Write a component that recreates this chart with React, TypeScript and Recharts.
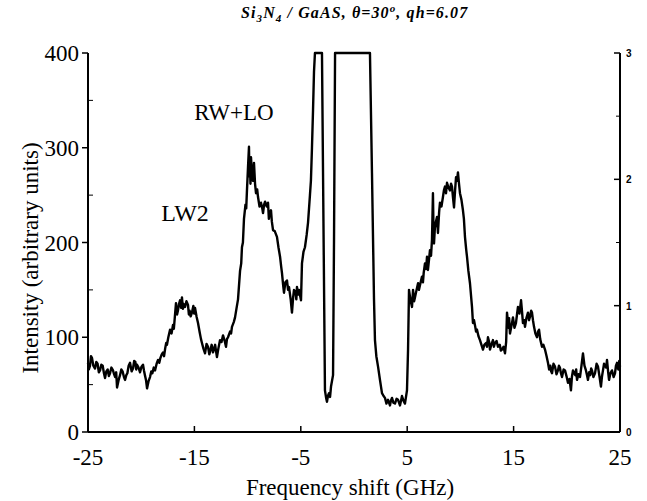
import React from "react";
import { LineChart, Line, XAxis, YAxis, ReferenceDot } from "recharts";

// [frequency shift (GHz), intensity (arbitrary units)]
const leftWing: [number, number][] = [
  [-25.0, 73], [-24.92, 66], [-24.81, 70], [-24.72, 80], [-24.62, 78], [-24.5, 70], [-24.34, 67], [-24.22, 74],
  [-24.1, 72], [-23.98, 63], [-23.87, 65], [-23.75, 71], [-23.62, 70], [-23.5, 62], [-23.4, 57], [-23.28, 64],
  [-23.15, 66], [-23.04, 59], [-22.93, 62], [-22.8, 68], [-22.65, 65], [-22.55, 61], [-22.45, 58], [-22.35, 63],
  [-22.27, 47], [-22.12, 55], [-21.99, 60], [-21.87, 66], [-21.75, 64], [-21.62, 58], [-21.52, 55], [-21.4, 60],
  [-21.3, 62], [-21.18, 70], [-21.05, 73], [-20.9, 64], [-20.77, 67], [-20.66, 75], [-20.55, 74], [-20.47, 66],
  [-20.39, 71], [-20.25, 68], [-20.11, 63], [-19.97, 69], [-19.83, 71], [-19.74, 65], [-19.65, 60], [-19.55, 55],
  [-19.45, 46], [-19.3, 54], [-19.17, 58], [-19.05, 64], [-18.95, 62], [-18.82, 68], [-18.7, 65], [-18.55, 72],
  [-18.42, 76], [-18.3, 73], [-18.2, 78], [-18.07, 82], [-17.95, 84], [-17.85, 80], [-17.75, 88], [-17.65, 94],
  [-17.58, 92], [-17.45, 100], [-17.29, 108], [-17.15, 104], [-17.01, 113], [-16.93, 109], [-16.85, 120], [-16.73, 136],
  [-16.63, 124], [-16.55, 128], [-16.45, 135], [-16.35, 139], [-16.25, 131], [-16.17, 142], [-16.08, 130], [-16.0, 135],
  [-15.88, 132], [-15.75, 138], [-15.6, 134], [-15.52, 124], [-15.45, 128], [-15.35, 122], [-15.23, 126], [-15.1, 133],
  [-15.02, 125], [-14.94, 131], [-14.8, 122], [-14.66, 115], [-14.5, 105], [-14.38, 98], [-14.29, 94], [-14.15, 88],
  [-14.0, 83], [-13.86, 93], [-13.72, 90], [-13.6, 82], [-13.5, 86], [-13.38, 92], [-13.25, 84], [-13.15, 88],
  [-13.05, 92], [-12.96, 85], [-12.88, 79], [-12.75, 88], [-12.59, 97], [-12.45, 95], [-12.31, 102], [-12.15, 96],
  [-12.03, 90], [-11.94, 98], [-11.84, 100], [-11.65, 106], [-11.55, 104], [-11.47, 111], [-11.3, 116], [-11.18, 121],
  [-11.05, 130], [-10.9, 140], [-10.71, 170], [-10.6, 178], [-10.53, 195], [-10.44, 200], [-10.34, 225], [-10.2, 240],
  [-10.13, 236], [-10.06, 255], [-9.96, 280], [-9.87, 301], [-9.83, 270], [-9.78, 280], [-9.73, 262], [-9.68, 290],
  [-9.59, 273], [-9.5, 265], [-9.4, 284], [-9.3, 262], [-9.21, 252], [-9.1, 256], [-9.02, 248], [-8.88, 238],
  [-8.74, 242], [-8.62, 236], [-8.55, 231], [-8.45, 240], [-8.36, 243], [-8.2, 238], [-8.08, 242], [-8.0, 225],
  [-7.95, 230], [-7.8, 234], [-7.72, 222], [-7.61, 213], [-7.45, 212], [-7.24, 206], [-7.1, 195], [-6.95, 185],
  [-6.85, 175], [-6.77, 168], [-6.66, 155], [-6.58, 147], [-6.45, 158], [-6.3, 160], [-6.2, 150], [-6.11, 153],
  [-5.95, 140], [-5.83, 126], [-5.72, 142], [-5.64, 150], [-5.5, 148], [-5.42, 140], [-5.36, 153], [-5.25, 145],
  [-5.17, 150], [-4.98, 139],
];

const centre: [number, number][] = [
  [-4.89, 178], [-4.75, 190], [-4.61, 195], [-4.45, 208], [-4.32, 221], [-4.14, 250], [-4.05, 265], [-3.95, 300],
  [-3.85, 340], [-3.76, 380], [-3.67, 400], [-3.01, 400], [-2.73, 44], [-2.62, 36], [-2.54, 32], [-2.45, 38],
  [-2.35, 41], [-2.25, 37], [-2.16, 48], [-1.97, 60], [-1.88, 200], [-1.78, 400], [1.5, 400], [1.69, 273],
  [1.88, 140], [1.97, 97], [2.1, 80], [2.26, 69], [2.44, 55], [2.63, 41], [2.78, 38], [2.91, 36],
  [3.05, 30], [3.2, 34], [3.38, 28], [3.47, 33], [3.57, 36], [3.7, 31], [3.85, 30], [4.0, 35],
  [4.14, 34], [4.32, 28], [4.42, 33], [4.51, 38], [4.65, 33], [4.79, 30], [4.98, 44], [5.08, 87],
];

const rightWing: [number, number][] = [
  [5.17, 150], [5.3, 140], [5.45, 132], [5.55, 150], [5.65, 138], [5.73, 142], [5.88, 150], [6.02, 157],
  [6.1, 150], [6.2, 155], [6.39, 164], [6.48, 158], [6.55, 168], [6.67, 178], [6.78, 172], [6.86, 185],
  [6.95, 171], [7.05, 182], [7.14, 192], [7.24, 186], [7.33, 203], [7.42, 252], [7.47, 215], [7.52, 199],
  [7.6, 215], [7.66, 220], [7.8, 227], [7.89, 210], [8.0, 232], [8.08, 242], [8.22, 238], [8.36, 248],
  [8.45, 255], [8.55, 259], [8.65, 252], [8.74, 263], [8.88, 258], [9.02, 255], [9.12, 262], [9.21, 259],
  [9.3, 248], [9.4, 237], [9.5, 255], [9.59, 269], [9.68, 265], [9.77, 274], [9.87, 262], [9.96, 252],
  [10.1, 245], [10.24, 234], [10.33, 225], [10.43, 206], [10.55, 192], [10.62, 185], [10.75, 170], [10.9, 157],
  [11.09, 132], [11.18, 115], [11.28, 118], [11.38, 112], [11.47, 106], [11.56, 108], [11.7, 101], [11.84, 97],
  [11.98, 92], [12.12, 87], [12.25, 92], [12.41, 94], [12.5, 90], [12.59, 100], [12.7, 95], [12.78, 87],
  [12.9, 92], [13.06, 97], [13.15, 90], [13.25, 94], [13.4, 96], [13.53, 90], [13.7, 92], [13.8, 86],
  [13.91, 87], [14.05, 90], [14.19, 83], [14.3, 95], [14.38, 126], [14.45, 118], [14.5, 110], [14.58, 120],
  [14.66, 104], [14.8, 112], [14.94, 121], [15.08, 110], [15.22, 115], [15.32, 124], [15.41, 132], [15.55, 125],
  [15.7, 139], [15.8, 126], [15.88, 115], [16.0, 118], [16.07, 111], [16.2, 120], [16.35, 126], [16.45, 118],
  [16.55, 122], [16.65, 128], [16.73, 126], [16.82, 118], [16.92, 111], [17.05, 104], [17.2, 100], [17.3, 106],
  [17.39, 108], [17.5, 98], [17.67, 90], [17.8, 92], [17.95, 87], [18.1, 80], [18.23, 73], [18.34, 66],
  [18.45, 70], [18.53, 64], [18.61, 62], [18.75, 72], [18.89, 69], [19.03, 61], [19.17, 65], [19.26, 70],
  [19.35, 68], [19.45, 62], [19.55, 58], [19.7, 66], [19.83, 65], [19.97, 59], [20.11, 52], [20.25, 56],
  [20.39, 44], [20.48, 58], [20.58, 65], [20.7, 62], [20.8, 60], [20.88, 66], [20.96, 55], [21.1, 61],
  [21.24, 58], [21.38, 70], [21.52, 83], [21.66, 70], [21.8, 65], [21.9, 60], [21.99, 55], [22.1, 63],
  [22.2, 60], [22.29, 67], [22.37, 65], [22.5, 58], [22.65, 62], [22.8, 72], [22.93, 69], [23.08, 58],
  [23.21, 48], [23.3, 58], [23.4, 65], [23.5, 72], [23.6, 70], [23.7, 68], [23.78, 76], [23.88, 64],
  [23.97, 55], [24.1, 62], [24.25, 65], [24.4, 58], [24.53, 62], [24.62, 70], [24.72, 73], [24.85, 66],
  [24.93, 75], [25.0, 69],
];

const xTicks: number[] = [-25, -15, -5, 5, 15, 25];
const yTicks: number[] = [0, 50, 100, 150, 200, 250, 300, 350, 400];
const rTicks: number[] = [0, 0.5, 1, 1.5, 2, 2.5, 3];

const data = [...leftWing, ...centre, ...rightWing].map(([f, v]) => ({ f, v }));

const SERIF = "'Liberation Serif', 'Times New Roman', serif";

const LeftTick = (props: any) => {
  const { x, y, payload } = props;
  const v = payload.value;
  if (v % 100 === 0) {
    return (
      <g>
        <line x1={x - 6} x2={x} y1={y} y2={y} stroke="#000" strokeWidth={1.5} />
        <text x={x - 9} y={y + 8} textAnchor="end" fontFamily={SERIF} fontSize={23} fill="#000">
          {v}
        </text>
      </g>
    );
  }
  return <line x1={x} x2={x + 5} y1={y} y2={y} stroke="#000" strokeWidth={1} />;
};

const RightTick = (props: any) => {
  const { x, y, payload } = props;
  const v = payload.value;
  if (Number.isInteger(v)) {
    return (
      <g>
        <line x1={x - 6} x2={x} y1={y} y2={y} stroke="#000" strokeWidth={1.5} />
        <text x={x + 6} y={y + 4} textAnchor="start" fontFamily="'Liberation Sans', Arial, sans-serif" fontWeight="bold" fontSize={10} fill="#000">
          {v}
        </text>
      </g>
    );
  }
  return <line x1={x - 4} x2={x} y1={y} y2={y} stroke="#000" strokeWidth={1} />;
};

const BottomTick = (props: any) => {
  const { x, y, payload } = props;
  const v = payload.value;
  const inner = v !== -25 && v !== 25;
  return (
    <g>
      {inner && <line x1={x} x2={x} y1={y} y2={y - 6} stroke="#000" strokeWidth={1.5} />}
      <text x={x} y={y + 33} textAnchor="middle" fontFamily={SERIF} fontSize={23} fill="#000">
        {v}
      </text>
    </g>
  );
};

export default function App() {
  return (
    <div style={{ position: "absolute", left: 0, top: 0, width: 647, height: 501, background: "#fff" }}>
      <LineChart
        width={647}
        height={501}
        data={data}
        margin={{ top: 53, right: 0, bottom: 29, left: 0 }}
      >
        <XAxis
          dataKey="f"
          type="number"
          domain={[-25, 25]}
          ticks={xTicks}
          tickLine={false}
          tickSize={0}
          tickMargin={0}
          height={40}
          axisLine={{ stroke: "#000", strokeWidth: 2 }}
          tick={<BottomTick />}
          interval={0}
        />
        <YAxis
          yAxisId="l"
          type="number"
          domain={[0, 400]}
          ticks={yTicks}
          width={88}
          tickLine={false}
          tickSize={0}
          tickMargin={0}
          axisLine={{ stroke: "#000", strokeWidth: 2 }}
          tick={<LeftTick />}
          interval={0}
        />
        <YAxis
          yAxisId="r"
          orientation="right"
          type="number"
          domain={[0, 3]}
          allowDataOverflow={true}
          ticks={rTicks}
          width={27}
          tickLine={false}
          tickSize={0}
          tickMargin={0}
          axisLine={{ stroke: "#000", strokeWidth: 2 }}
          tick={<RightTick />}
          interval={0}
        />
        <Line
          yAxisId="r"
          type="linear"
          dataKey="v"
          stroke="none"
          strokeWidth={0}
          dot={false}
          activeDot={false}
          isAnimationActive={false}
        />
        <Line
          yAxisId="l"
          type="linear"
          dataKey="v"
          stroke="#000"
          strokeWidth={2.4}
          strokeLinejoin="round"
          dot={false}
          isAnimationActive={false}
        />
        <ReferenceDot
          yAxisId="l"
          x={-11.28}
          y={338}
          r={0}
          stroke="none"
          fill="none"
          label={{ value: "RW+LO", position: "center", fontFamily: SERIF, fontSize: 23, fill: "#000" }}
        />
        <ReferenceDot
          yAxisId="l"
          x={-15.88}
          y={232}
          r={0}
          stroke="none"
          fill="none"
          label={{ value: "LW2", position: "center", fontFamily: SERIF, fontSize: 24, fill: "#000" }}
        />
      </LineChart>
      <svg
        width={647}
        height={501}
        style={{ position: "absolute", left: 0, top: 0, pointerEvents: "none" }}
      >
        <text x={241} y={18} textAnchor="start" fontFamily={SERIF} fontStyle="italic" fontWeight="bold" fontSize={16} letterSpacing={1.1} fill="#000">
          Si<tspan dy={4} fontSize={11}>3</tspan>
          <tspan dy={-4}>N</tspan>
          <tspan dy={4} fontSize={11}>4</tspan>
          <tspan dy={-4}>{" / GaAS,  θ=30"}</tspan>
          <tspan dy={-6} fontSize={11}>o</tspan>
          <tspan dy={6}>{", qh=6.07"}</tspan>
        </text>
        <text
          x={0}
          y={0}
          transform="translate(38,258) rotate(-90)"
          textAnchor="middle"
          fontFamily={SERIF}
          fontSize={23}
          fill="#000"
        >
          Intensity (arbitrary units)
        </text>
        <text x={350} y={495} textAnchor="middle" fontFamily={SERIF} fontSize={23} fill="#000">
          Frequency shift (GHz)
        </text>
      </svg>
    </div>
  );
}
